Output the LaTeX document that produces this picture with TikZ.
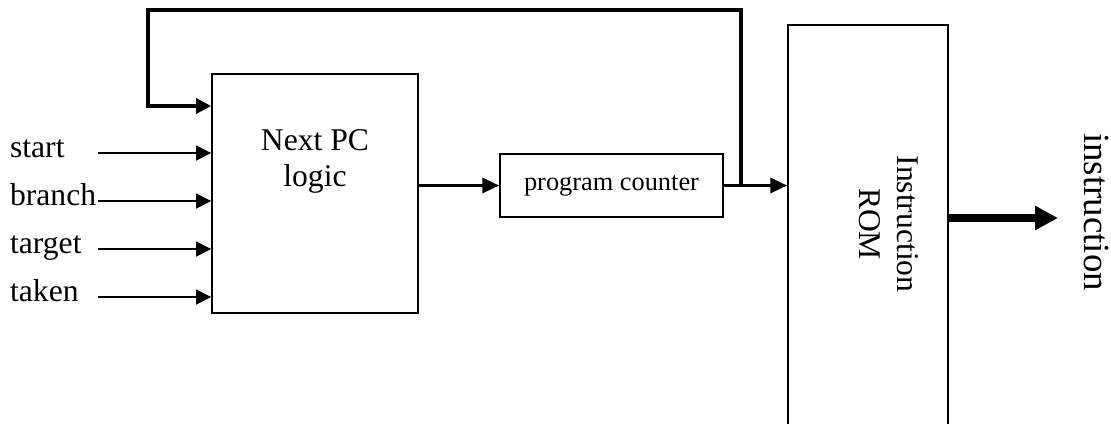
\documentclass[tikz,border=0pt]{standalone}
\usepackage{fontspec}
\setmainfont{Liberation Serif}
\usetikzlibrary{arrows.meta, positioning}
\tikzset{
  block/.style={rectangle, draw, line width=1.1pt, inner sep=0pt},
  siglabel/.style={anchor=west, inner sep=1pt, font=\fontsize{18}{21}\selectfont,
    text height=0.75em, text depth=0.2em},
  sigarrow/.style={-{Triangle[length=8.5pt, width=8.5pt]}, line width=1.1pt},
  busarrow/.style={-{Triangle[length=9.5pt, width=8.5pt]}, line width=1.7pt},
  fbarrow/.style={-{Triangle[length=8.5pt, width=8.5pt]}, line width=2pt},
  outarrow/.style={-{Triangle[length=13pt, width=13pt]}, line width=4.5pt},
}
\begin{document}
\begin{tikzpicture}[x=0.02cm, y=-0.02cm, line join=miter]
  \useasboundingbox (0,0) rectangle (1111,423);

  % Blocks
  \node[block, minimum width=4.12cm, minimum height=4.78cm] (next) at (315,193.5) {};
  \node[font=\fontsize{18}{20.5}\selectfont, align=center] (nextlbl)
    at ([yshift=-1.76cm]next.north) {Next PC\\logic};
  \node[block, minimum width=4.46cm, minimum height=1.26cm,
    font=\fontsize{15}{18}\selectfont] (pc) at (611.5,185.5) {program counter};
  \node[block, minimum width=3.2cm, minimum height=8.4cm] (rom) at (868,235) {};
  \node[rotate=-90, align=center, font=\fontsize{18}{21.5}\selectfont] (romlbl)
    at ([xshift=0.42cm, yshift=-4cm]rom.north) {Instruction\\ROM};

  % Inputs
  \foreach \name/\yy in {start/153, branch/201, target/249, taken/297}
    \node[siglabel] (in-\name) at (8,\yy) {\name};
  \foreach \name in {start, branch, target, taken}
    \draw[sigarrow] (in-\name.east -| in-branch.east) -- (in-\name.east -| next.west);

  % Datapath
  \draw[busarrow] (next.east |- pc.west) -- (pc.west);
  \draw[busarrow] (pc.east) -- (pc.east -| rom.west);

  % Feedback
  \coordinate (tap) at ([xshift=0.34cm]pc.east);
  \coordinate (fbtop) at (148,10);
  \coordinate (fbin) at (next.west |- 0,106);
  \draw[fbarrow] (tap) |- (fbtop) |- (fbin);

  % Output
  \coordinate (outtip) at (1058,218);
  \draw[outarrow] (rom.east |- outtip) -- (outtip);
  \node[rotate=-90, anchor=base, font=\fontsize{21}{24}\selectfont] (outlbl)
    at (1084,212) {instruction};
\end{tikzpicture}
\end{document}
